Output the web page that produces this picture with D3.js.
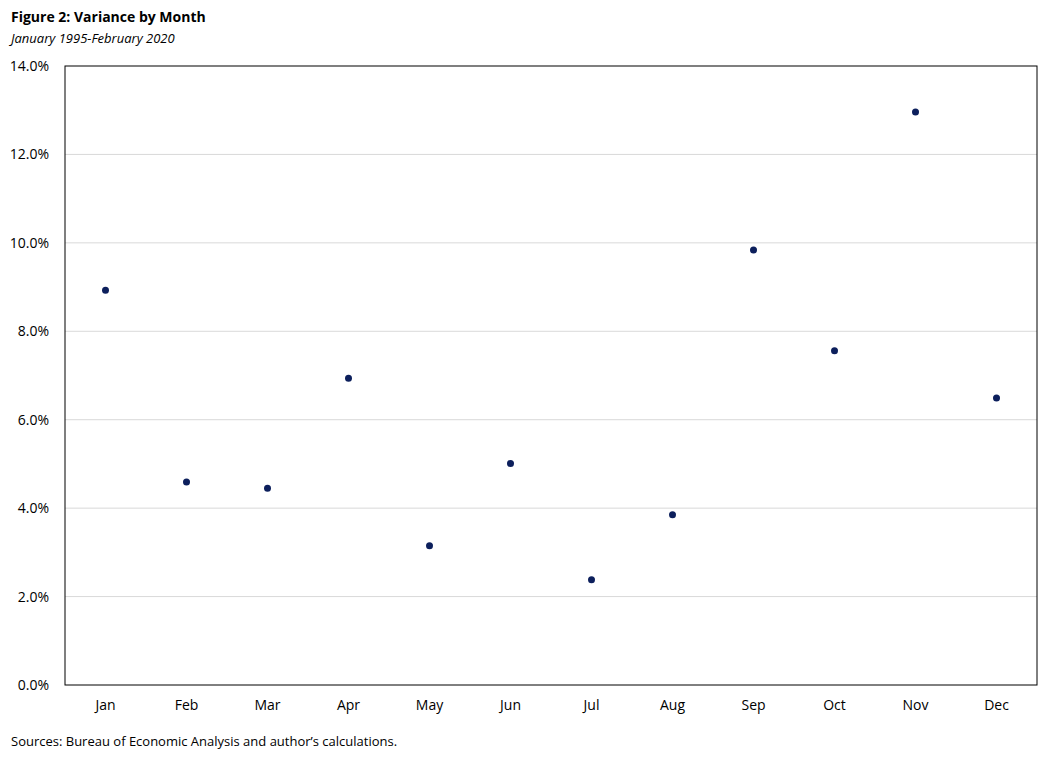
<!DOCTYPE html>
<html><head><meta charset="utf-8">
<script src="https://cdn.jsdelivr.net/npm/d3@7"></script>
<style>body{margin:0;background:#fff;font-family:"Open Sans",sans-serif;}</style>
</head><body>
<svg id="chart" width="1044" height="758"></svg>
<script>
// months and variance (%)
var months = ['Jan','Feb','Mar','Apr','May','Jun','Jul','Aug','Sep','Oct','Nov','Dec'];
var variance = [8.93, 4.59, 4.45, 6.94, 3.15, 5.01, 2.38, 3.85, 9.84, 7.56, 12.96, 6.49];
var yTicks = [0, 2, 4, 6, 8, 10, 12, 14];

var svg = d3.select('#chart');
var m = {left: 65, right: 1037, top: 66, bottom: 685};

var x = d3.scaleBand().domain(months).range([m.left, m.right]);
var y = d3.scaleLinear().domain([0, 14]).range([m.bottom, m.top]);

// title block
svg.append('text').attr('x', 11).attr('y', 22)
  .style('font-size', '14px').style('font-weight', 'bold')
  .text('Figure 2: Variance by Month');
svg.append('text').attr('x', 11).attr('y', 43)
  .style('font-size', '13px').style('font-style', 'italic')
  .text('January 1995-February 2020');

// gridlines
svg.append('g').selectAll('line').data(yTicks.slice(1, -1)).enter().append('line')
  .attr('x1', m.left).attr('x2', m.right)
  .attr('y1', function(d) { return y(d); }).attr('y2', function(d) { return y(d); })
  .style('stroke', '#d9d9d9').style('stroke-width', 1);

// plot border
svg.append('rect').attr('x', m.left).attr('y', m.top)
  .attr('width', m.right - m.left).attr('height', m.bottom - m.top)
  .style('fill', 'none').style('stroke', '#000').style('stroke-width', 1);

// y axis labels
var yAxis = d3.axisLeft(y).tickValues(yTicks).tickSize(0).tickPadding(16)
  .tickFormat(function(d) { return d.toFixed(1) + '%'; });
var gy = svg.append('g').attr('transform', 'translate(' + m.left + ',0)').call(yAxis);
gy.select('.domain').remove();
gy.selectAll('text').style('font-size', '14px').style('font-family', '"Open Sans",sans-serif').attr('fill', '#000');

// x axis labels
var xAxis = d3.axisBottom(x).tickSize(0).tickPadding(15);
var gx = svg.append('g').attr('transform', 'translate(0,' + m.bottom + ')').call(xAxis);
gx.select('.domain').remove();
gx.selectAll('text').style('font-size', '14px').style('font-family', '"Open Sans",sans-serif').attr('fill', '#000');

// points
svg.append('g').selectAll('circle').data(months).enter().append('circle')
  .attr('cx', function(d) { return x(d) + x.bandwidth() / 2; })
  .attr('cy', function(d, i) { return y(variance[i]); })
  .attr('r', 3.5)
  .style('fill', '#0c1f5c');

// source note
svg.append('text').attr('x', 11).attr('y', 746)
  .style('font-size', '13px')
  .text('Sources: Bureau of Economic Analysis and author\u2019s calculations.');
</script>
</body></html>
